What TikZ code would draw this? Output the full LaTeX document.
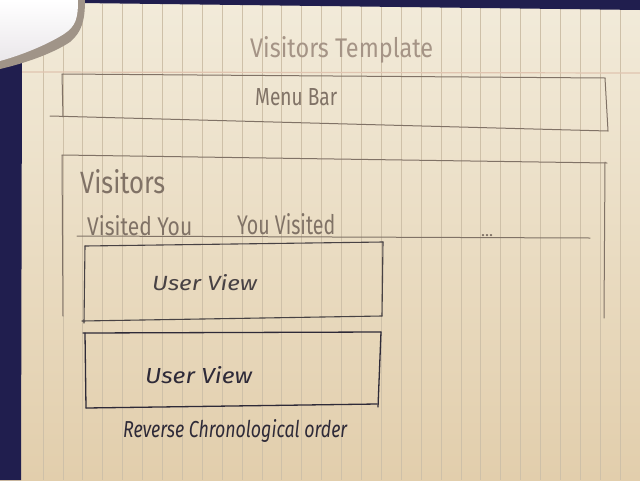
\documentclass[tikz,border=0pt]{standalone}
\usepackage{fontspec}
\setmainfont{Fira Sans}
\usepackage{graphicx}

\definecolor{navy}{RGB}{32,30,78}
\definecolor{paperhi}{RGB}{242,235,218}
\definecolor{paperlo}{RGB}{226,206,172}
\definecolor{ruling}{RGB}{206,192,168}
\definecolor{marginred}{RGB}{224,196,176}
\definecolor{pencil}{RGB}{128,114,102}
\definecolor{pencillight}{RGB}{165,148,134}
\definecolor{inkgrey}{RGB}{72,66,68}
\definecolor{ink}{RGB}{46,42,56}
\definecolor{shell}{RGB}{234,231,234}
\definecolor{shelledge}{RGB}{160,148,136}

% stretch a handwritten word to a given width and height (in pt)
\newcommand{\handtext}[3]{\resizebox{#1pt}{#2pt}{#3}}

\begin{document}
\begin{tikzpicture}[x=1pt,y=-1pt,
  pencilline/.style={draw=pencil,line width=1.0pt,line cap=round},
  greyline/.style={draw=inkgrey,line width=1.1pt,line cap=round},
  penline/.style={draw=ink,line width=1.3pt,line cap=round},
  labelbase/.style={anchor=base west,inner sep=0pt},
  pencillabel/.style={labelbase,text=pencil},
  faintlabel/.style={labelbase,text=pencillight},
  greylabel/.style={labelbase,text=inkgrey,font=\itshape},
  penlabel/.style={labelbase,text=ink,font=\itshape}]
\useasboundingbox (0,0) rectangle (640,480);

% sheet of paper
\shade[top color=paperhi,bottom color=paperlo] (0,0) rectangle (640,480);

% vertical rulings and the margin line
\foreach \k in {0,...,29}
  \draw[ruling,line width=0.7pt] ({43+19.9*\k},4) -- ({43+19.9*\k},480);
\draw[marginred,line width=1.2pt] (21,72) -- (640,73);

% desk showing round the sheet
\fill[navy] (78,0) -- (640,0) -- (640,10) -- (80,3) -- cycle;
\fill[navy] (0,58) -- (22,58) -- (21,480) -- (0,480) -- cycle;

% object lying on the corner of the sheet
\fill[shelledge] (0,0) -- (85,0) .. controls (85,20) and (82,32) .. (70,42)
  .. controls (55,52) and (30,62) .. (0,69) -- cycle;
\shade[top color=white,bottom color=shell] (0,0) -- (78,0) .. controls (78,18) and (76,26) .. (64,34)
  .. controls (48,44) and (25,54) .. (0,61) -- cycle;

% title
\node[faintlabel] (title) at (250,57) {\handtext{183}{21}{Visitors Template}};

% menu bar
\coordinate (mbTL) at (62,74);
\coordinate (mbTR) at (605,78);
\coordinate (mbBL) at (63,117);
\coordinate (mbBLo) at (50,116);
\coordinate (mbBR) at (608,131);
\draw[pencilline] (mbTL) -- (mbTR);
\draw[pencilline] (mbTL) -- (mbBL);
\draw[pencilline] (mbBLo) -- (mbBR);
\draw[pencilline] (mbTR) -- (mbBR);
\node[pencillabel] (menubar) at (255,105) {\handtext{82}{17}{Menu Bar}};

% visitors panel
\coordinate (viTL) at (62,155);
\coordinate (viTR) at (607,163);
\coordinate (viBL) at (63,316);
\coordinate (viRT) at (605,162);
\coordinate (viBR) at (604,318);
\draw[pencilline] (viTL) -- (viTR);
\draw[pencilline] (viTL) -- (viBL);
\draw[pencilline] (viRT) -- (viBR);
\node[pencillabel] (visitors) at (80,193) {\handtext{85}{24}{Visitors}};

% tabs
\node[pencillabel] (tabin) at (87,235) {\handtext{105}{20}{Visited You}};
\node[pencillabel] (tabout) at (237,234) {\handtext{98}{21}{You Visited}};
\node[pencillabel] (tabmore) at (481,236) {\handtext{12}{2}{...}};
\coordinate (ulL) at (77,236);
\coordinate (ulR) at (590,238);
\draw[pencilline] (ulL) -- (ulR);

% first user view
\coordinate (uaTL) at (85,246);
\coordinate (uaTR) at (383,242);
\coordinate (uaBL) at (84,323);
\coordinate (uaBLo) at (82,321);
\coordinate (uaBR) at (382,316);
\draw[greyline] (uaTL) -- (uaTR);
\draw[greyline] (uaTL) -- (uaBL);
\draw[greyline] (uaBLo) -- (uaBR);
\draw[greyline] (uaTR) -- (uaBR);
\node[greylabel] (viewa) at (152,290) {\handtext{105}{16}{User View}};

% second user view
\coordinate (ubTL) at (83,333);
\coordinate (ubTR) at (381,332);
\coordinate (ubL) at (85,333);
\coordinate (ubBL) at (86,408);
\coordinate (ubBR) at (377,404);
\coordinate (ubRB) at (378,407);
\draw[penline] (ubTL) -- (ubTR);
\draw[penline] (ubL) -- (ubBL);
\draw[penline] (ubBL) -- (ubBR);
\draw[penline] (ubTR) -- (ubRB);
\node[penlabel] (viewb) at (145,383) {\handtext{107}{17}{User View}};

% ordering note
\node[penlabel] (order) at (123,437) {\handtext{224}{18}{Reverse Chronological order}};
\end{tikzpicture}
\end{document}
